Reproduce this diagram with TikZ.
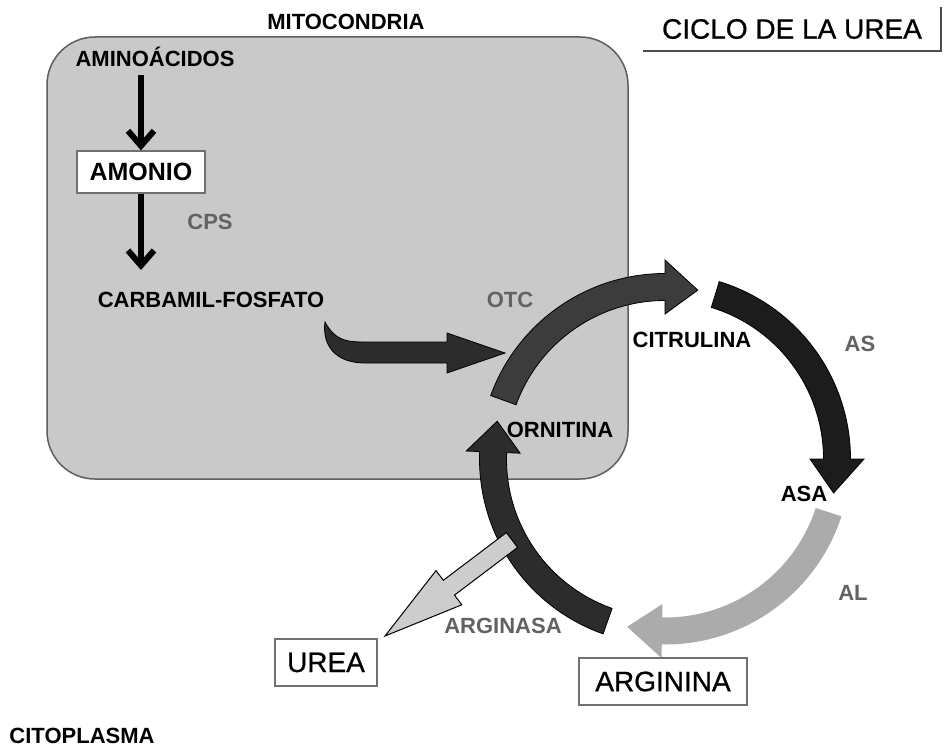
\documentclass[tikz,border=0pt]{standalone}
\usepackage{fontspec}
\setmainfont{Liberation Sans}
\newfontfamily\medfont{Liberation Sans}[FakeBold=0.8]
\usetikzlibrary{arrows.meta}
\definecolor{mito}{HTML}{C9C9C9}
\definecolor{mitoline}{HTML}{5E5E5E}
\definecolor{enzgray}{HTML}{626262}
\definecolor{boxline}{HTML}{707070}
\definecolor{cA}{HTML}{3C3C3C}
\definecolor{cB}{HTML}{1C1C1C}
\definecolor{cC}{HTML}{ABABAB}
\definecolor{cD}{HTML}{2C2C2C}
\definecolor{ureaarr}{HTML}{CDCDCD}
\newcommand\cycarr[4]{%
  \filldraw[#1] (#2:185.5) arc[start angle=#2, end angle=#3, radius=185.5]
    -- (#3:199) -- (#4:172) -- (#3:145) -- (#3:158.5)
    arc[start angle=#3, end angle=#2, radius=158.5] -- cycle;}
\begin{document}
\begin{tikzpicture}[x=1pt,y=-1pt,
  lab/.style={font=\fontsize{22}{26}\selectfont\bfseries, inner sep=0pt},
  enz/.style={lab, text=enzgray},
  boxlab/.style={draw=boxline, line width=1.2pt, fill=white, inner sep=0pt,
     font=\fontsize{28}{32}\selectfont\medfont},
  varrow/.style={line width=6pt, -{Straight Barb[length=15pt, width=26pt]}},
  darkline/.style={draw=black, line width=0.8pt}]
\useasboundingbox[fill=white] (0,0) rectangle (951,752);

% mitochondria
\filldraw[fill=mito, draw=mitoline, line width=1.5pt, rounded corners=48pt]
  (47,37) rectangle (628,479);

% carbamil-fosfato arrow
\filldraw[fill=cD, darkline] (325,322) .. controls (335,340) and (345,342) .. (365,342)
  -- (447,342) -- (447,333) -- (505,353) -- (447,373) -- (447,363) -- (365,363)
  .. controls (335,363) and (322,345) .. (325,322) -- cycle;

% cycle
\begin{scope}[shift={(665,459)}]
  \cycarr{fill=cA, darkline}{-160}{-90}{-79}
  \cycarr{fill=cB, darkline}{-73}{0}{11.4}
  \cycarr{fill=cC, draw=none}{18}{91}{102.7}
  \cycarr{fill=cD, darkline}{109.5}{182.3}{192.7}
\end{scope}

% urea arrow
\filldraw[fill=ureaarr, draw=black, line width=1pt]
  (506.4,532.6) -- (443.3,580.3) -- (436,570.6) -- (385,636) -- (461.8,604.8)
  -- (454.5,595.1) -- (517.6,547.4) -- cycle;

% texts
\node[lab] (mitotxt) at (346,22) {MITOCONDRIA};
\node[lab] (amino) at (155,57) {AMINOÁCIDOS};
\node[boxlab, font=\fontsize{25}{30}\selectfont\bfseries, minimum width=128pt, minimum height=42pt]
  (amonio) at (141,172) {AMONIO};
\node[enz] (cps) at (210,222) {CPS};
\node[lab] (carb) at (211,300) {CARBAMIL-FOSFATO};
\node[enz] (otc) at (510,300) {OTC};
\node[lab] (citr) at (692,340) {CITRULINA};
\node[enz] (as) at (860,344) {AS};
\node[lab] (asa) at (804,494) {ASA};
\node[enz] (al) at (853,593) {AL};
\node[lab] (orn) at (560,430) {ORNITINA};
\node[enz] (argasa) at (503,626) {ARGINASA};
\node[boxlab, minimum width=102pt, minimum height=47pt] (urea) at (326,662.5) {UREA};
\node[boxlab, minimum width=168pt, minimum height=47pt] (arg) at (663,681.5) {ARGININA};
\node[lab] (cito) at (82,736) {CITOPLASMA};
\node[inner sep=0pt, minimum width=297pt, minimum height=44pt,
  font=\fontsize{28}{32}\selectfont\medfont] (title) at (792,29) {CICLO DE LA UREA};
\draw[draw=black!70, line width=2pt] (title.south west) -- (title.south east) -- (title.north east);

% vertical arrows
\draw[varrow, shorten <=8pt] (amino.south -| amonio.north) -- (amonio.north);
\draw[varrow, shorten >=22pt] (amonio.south) -- (amonio.south |- carb.north);
\end{tikzpicture}
\end{document}
